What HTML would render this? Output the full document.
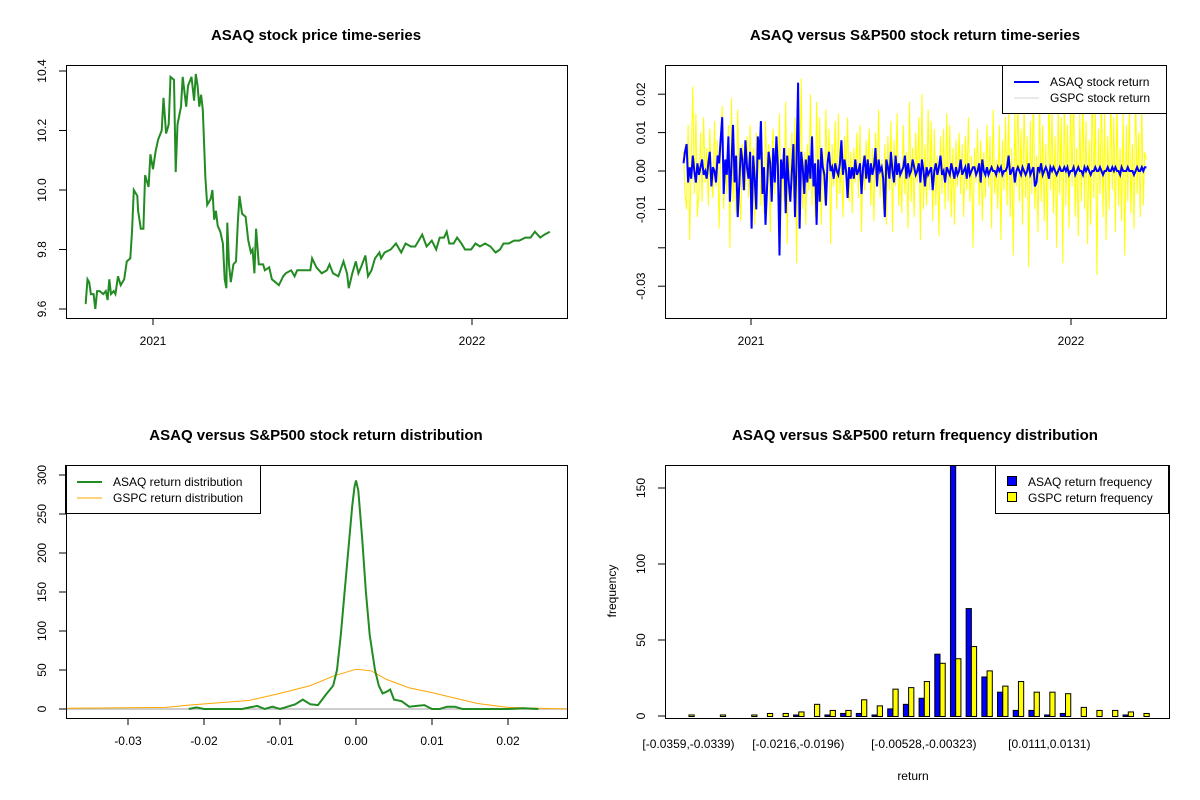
<!DOCTYPE html>
<html><head><meta charset="utf-8"><style>
body{margin:0;background:#fff}
svg{display:block;font-family:"Liberation Sans",Arial,sans-serif}
</style></head><body>
<svg id="s" width="1200" height="800" viewBox="0 0 1200 800">
<rect width="1200" height="800" fill="#fff"/>
<g font-weight="bold" font-size="15" text-anchor="middle" fill="#000">
<text x="316" y="40">ASAQ stock price time-series</text>
<text x="915" y="40">ASAQ versus S&amp;P500 stock return time-series</text>
<text x="316" y="440">ASAQ versus S&amp;P500 stock return distribution</text>
<text x="915" y="440">ASAQ versus S&amp;P500 return frequency distribution</text>
</g>
<text x="913" y="780" font-size="12" text-anchor="middle">return</text>
<text transform="translate(616,591) rotate(-90)" font-size="12" text-anchor="middle">frequency</text>
</svg>
<script>
// ---- price series (day offset from 2021-01-01, price) ----
const priceDays=[-78,-77,-75,-73,-71,-68,-66,-64,-61,-57,-54,-52,-50,-48,-45,-43,-40,-37,-33,-30,-26,-24,-22,-18,-17,-14,-11,-9,-5,-3,0,3,6,10,12,15,18,20,24,26,28,32,34,38,40,44,47,49,51,53,55,57,60,62,66,68,70,72,74,77,80,82,84,85,87,89,92,95,97,99,102,106,109,112,114,116,118,121,126,128,133,136,140,144,149,152,158,162,165,172,180,182,187,193,199,202,206,212,218,222,224,228,232,235,238,243,246,250,254,259,261,265,272,278,284,289,295,300,304,308,313,319,324,328,333,336,339,344,348,353,357,364,369,374,380,386,392,397,401,407,413,419,426,432,437,443,448,454];
const priceVals=[9.62,9.62,9.70,9.69,9.65,9.65,9.60,9.66,9.66,9.65,9.66,9.63,9.70,9.65,9.66,9.65,9.71,9.68,9.70,9.76,9.77,9.86,10.00,9.98,9.93,9.87,9.87,10.05,10.01,10.12,10.07,10.13,10.17,10.20,10.31,10.19,10.22,10.38,10.37,10.06,10.22,10.28,10.38,10.28,10.35,10.38,10.30,10.39,10.35,10.28,10.32,10.27,10.04,9.95,9.97,10.00,9.90,9.93,9.88,9.86,9.82,9.70,9.67,9.89,9.75,9.69,9.75,9.76,9.89,9.98,9.92,9.91,9.83,9.79,9.80,9.72,9.87,9.75,9.75,9.73,9.74,9.70,9.69,9.68,9.71,9.72,9.73,9.71,9.73,9.73,9.73,9.77,9.74,9.72,9.73,9.75,9.72,9.71,9.76,9.72,9.67,9.72,9.76,9.72,9.74,9.78,9.71,9.73,9.77,9.79,9.77,9.79,9.80,9.82,9.79,9.82,9.81,9.81,9.83,9.85,9.81,9.83,9.80,9.84,9.84,9.86,9.82,9.82,9.84,9.82,9.80,9.80,9.82,9.81,9.82,9.81,9.79,9.80,9.82,9.82,9.83,9.83,9.84,9.84,9.86,9.84,9.85,9.86];
const priceTicks=[9.6,9.8,10.0,10.2,10.4];
const yearTicks=[{d:0,l:"2021"},{d:365,l:"2022"}];
// ---- return series (x 0.001) ----
const retStartDay=-77, retEndDay=451;
const asaqRet=[2,5,7,-3,1,-2,4,0,-3,2,-1,1,3,-1,0,-2,2,5,-4,1,
0,-3,4,2,8,14,-6,3,-1,9,-8,2,12,-3,4,-12,-4,6,3,-5,
8,1,-2,5,-15,4,-2,-10,9,3,13,-6,1,-14,-4,5,2,-8,6,-3,
9,1,-22,3,-2,6,-11,4,-3,-8,0,7,-12,2,23,-15,5,1,-6,3,
-3,4,-2,9,-4,2,-14,3,-8,6,1,-1,-9,2,5,0,1,-2,2,0,
-1,2,8,-1,3,0,-7,1,-2,1,-2,3,-1,0,2,-6,1,4,-2,3,
-3,2,-1,1,6,-4,3,0,1,-2,-12,3,1,-2,5,0,-3,4,-1,2,
-1,0,1,4,-2,2,-1,0,3,1,-1,0,2,-3,3,0,-4,1,-1,0,
1,-5,0,2,-1,1,4,-1,0,-3,1,0,-1,2,0,-2,1,-1,0,3,
-1,0,1,-2,2,-1,0,1,1,-1,0,2,-3,3,0,-1,1,-1,0,1,
0,0,-1,1,0,1,-1,0,0,1,4,-1,0,1,-3,0,1,0,-1,1,
0,-1,0,2,-1,0,1,-4,-3,1,0,2,-1,0,1,0,-2,1,0,1,
0,-1,0,1,0,0,1,0,1,-1,0,0,1,-1,0,1,0,0,-1,1,
0,1,0,-1,0,0,1,0,0,1,0,-1,0,0,1,0,0,1,0,1,
0,0,-1,1,0,0,0,1,0,0,0,-1,0,1,0,0,1,0,1,1];
const gspcRet=[5,-6,-10,12,-18,3,22,-6,15,-12,-5,10,-8,14,-3,6,-9,11,-2,-7,
13,-4,8,-15,5,17,-10,3,-6,12,-20,19,-8,4,-11,16,-3,-13,7,2,
-5,9,-7,12,-4,6,-14,10,-2,8,-9,5,-11,13,-3,7,-16,4,11,-6,
9,-5,15,-12,3,-8,18,-19,6,-2,10,-7,14,-24,8,-3,24,-10,5,-14,
7,-5,20,-9,2,-12,18,-6,14,-14,5,-8,16,-3,11,-19,7,-4,13,-10,
15,-6,3,-12,9,-2,14,-8,5,-11,6,-3,10,-7,12,-16,4,-5,8,-2,
11,-9,6,-13,10,-4,16,-7,3,-10,7,-14,9,-5,13,-16,8,-4,15,-9,
2,-11,12,-6,5,-15,18,-8,6,-12,10,-3,14,-18,20,-10,7,-9,16,-5,
13,-13,11,-9,4,-17,9,-6,11,-10,15,-8,12,-12,6,-14,8,-4,10,-6,
7,-12,9,-5,14,-8,4,-20,6,-3,11,-9,8,-13,5,-7,12,-4,9,-15,
16,-6,3,-10,12,-18,8,-5,14,-9,17,-12,6,-22,15,-4,20,-8,11,-14,
18,-7,9,-25,13,-6,21,-10,4,-16,19,-8,12,-13,7,-18,22,-5,16,-11,
9,-20,17,-6,14,-24,21,-9,12,-15,18,-4,22,-12,6,-17,15,-8,20,-10,
13,-19,8,-14,24,-7,17,-27,11,-6,22,-12,15,-18,9,-10,20,-5,14,-16,
19,-9,6,-13,16,-22,12,-8,18,-11,7,-15,21,-6,10,-12,17,-9,5,3];
const retTicks=[{v:0.02,l:"0.02"},{v:0.01,l:"0.01"},{v:0,l:"0.00"},{v:-0.01,l:"-0.01"},{v:-0.02,l:""},{v:-0.03,l:"-0.03"}];
// ---- density (x in 0.001 units) ----
const greenX=[-22,-21,-20,-15,-14,-13,-12,-11,-10,-9,-8,-7,-6,-5,-4,-3,-2.5,-2,-1.5,-1,-0.5,-0.2,0,0.3,0.8,1.3,1.8,2.5,3,3.5,4,4.5,5,6,7,8,9,10,11,12,13,14,20,22,24];
const greenY=[0,2,0,0,2,4,0,3,0,3,6,12,6,5,18,30,50,95,150,205,260,285,293,280,220,150,95,50,30,20,22,25,12,10,3,4,5,0,0,3,3,0,0,1,0];
const orangeX=[-38,-25,-22,-18,-14,-10,-6,-3,0,2,4,7,10,13,16,20,24,28];
const orangeY=[1,2,5,8,11,20,30,42,51,49,38,27,21,14,7,2,1,0];
const densXTicks=[-0.03,-0.02,-0.01,0,0.01,0.02];
const densXLabels=["-0.03","-0.02","-0.01","0.00","0.01","0.02"];
const densYTicks=[0,50,100,150,200,250,300];
// ---- histogram ----
const asaqFreq=[0,0,0,0,0,0,0,1,0,1,2,2,1,5,8,12,41,180,71,26,16,4,4,1,2,0,0,0,1,0];
const gspcFreq=[1,0,1,0,1,2,2,3,8,4,4,11,7,18,19,23,35,38,46,30,20,23,16,16,15,6,4,4,3,2];
const histLabelGroups=[1,8,16,24];
const histLabels=["[-0.0359,-0.0339)","[-0.0216,-0.0196)","[-0.00528,-0.00323)","[0.0111,0.0131)"];
const histYTicks=[0,50,100,150];

const S=document.getElementById('s');const NS="http://www.w3.org/2000/svg";
function el(t,a,p){const e=document.createElementNS(NS,t);for(const k in a)e.setAttribute(k,a[k]);(p||S).appendChild(e);return e;}
function txt(x,y,s,anchor,rot){const e=el('text',{x:x,y:y,'font-size':12,'text-anchor':anchor||'middle'});if(rot)e.setAttribute('transform','rotate(-90 '+x+' '+y+')');e.textContent=s;return e;}
function box(x0,y0,x1,y1){return el('rect',{x:x0+.5,y:y0+.5,width:x1-x0,height:y1-y0,fill:'none',stroke:'#000','stroke-width':1});}
function clip(id,x0,y0,x1,y1){const c=el('clipPath',{id:id});el('rect',{x:x0,y:y0,width:x1-x0,height:y1-y0},c);}

// Panel 1: price
{const x=d=>153+d*319/365,y=v=>309-(v-9.6)*297.5;
clip('c1',66,65,567,318);
const pts=priceDays.map((d,i)=>x(d).toFixed(1)+','+y(priceVals[i]).toFixed(1)).join(' ');
const pl=el('polyline',{points:pts,fill:'none',stroke:'#228B22','stroke-width':2,'clip-path':'url(#c1)'});


const b=box(66,65,567,318);
priceTicks.forEach(v=>{const yy=y(v);el('line',{x1:59,x2:66,y1:yy,y2:yy,stroke:'#000'});const t=txt(46,yy,v.toFixed(1),'middle',true);});
yearTicks.forEach(o=>{const xx=x(o.d);el('line',{x1:xx,x2:xx,y1:318,y2:325,stroke:'#000'});const t=txt(xx,345,o.l);});
}
// Panel 2: returns
{const x=d=>751+d*320/365,y=v=>171-v*3840;
clip('c2',666,66,1166,318);
const n=gspcRet.length,m=asaqRet.length;
const gp=gspcRet.map((v,i)=>x(retStartDay+i*(retEndDay-retStartDay)/(n-1)).toFixed(1)+','+y(v/1000).toFixed(1)).join(' ');
const g=el('polyline',{points:gp,fill:'none',stroke:'#ffff00','stroke-width':1,'clip-path':'url(#c2)'});


const ap=asaqRet.map((v,i)=>x(retStartDay+i*(retEndDay-retStartDay)/(m-1)).toFixed(1)+','+y(v/1000).toFixed(1)).join(' ');
const a=el('polyline',{points:ap,fill:'none',stroke:'#0000ff','stroke-width':2,'clip-path':'url(#c2)'});


retTicks.forEach(o=>{const yy=y(o.v);el('line',{x1:658,x2:665,y1:yy,y2:yy,stroke:'#000'});if(o.l){const t=txt(645,yy,o.l,'middle',true);}});
yearTicks.forEach(o=>{const xx=x(o.d);el('line',{x1:xx,x2:xx,y1:318,y2:325,stroke:'#000'});const t=txt(xx,345,o.l);});
el('rect',{x:1002.5,y:65.5,width:164,height:48,fill:'#fff',stroke:'#000'});
el('line',{x1:1014,x2:1039,y1:82,y2:82,stroke:'#0000ff','stroke-width':2});
el('line',{x1:1014,x2:1039,y1:98,y2:98,stroke:'#d3d3d3','stroke-width':1});
let t=txt(1050,86,'ASAQ stock return','start');
t=txt(1050,102,'GSPC stock return','start');
const b=box(665,65,1166,318);
}
// Panel 3: density
{const x=v=>356+v*7600,y=v=>709-v*0.78;
clip('c3',66,466,567,718);
el('line',{x1:66,x2:567,y1:709,y2:709,stroke:'#bebebe','stroke-width':1.5});
const op=orangeX.map((v,i)=>x(v/1000).toFixed(1)+','+y(orangeY[i]).toFixed(1)).join(' ');
const o=el('polyline',{points:op,fill:'none',stroke:'#ffa500','stroke-width':1,'clip-path':'url(#c3)'});


const gp=greenX.map((v,i)=>x(v/1000).toFixed(1)+','+y(greenY[i]).toFixed(1)).join(' ');
const g=el('polyline',{points:gp,fill:'none',stroke:'#228B22','stroke-width':2,'clip-path':'url(#c3)'});


densYTicks.forEach(v=>{const yy=y(v);el('line',{x1:59,x2:66,y1:yy,y2:yy,stroke:'#000'});const t=txt(46,yy,String(v),'middle',true);});
densXTicks.forEach((v,i)=>{const xx=x(v);el('line',{x1:xx,x2:xx,y1:718,y2:725,stroke:'#000'});const t=txt(xx,745,densXLabels[i]);});
el('rect',{x:65.5,y:465.5,width:195,height:48,fill:'#fff',stroke:'#000'});
el('line',{x1:77,x2:102,y1:482,y2:482,stroke:'#228B22','stroke-width':2});
el('line',{x1:77,x2:102,y1:498,y2:498,stroke:'#ffa500','stroke-width':1});
let t=txt(113,486,'ASAQ return distribution','start');
t=txt(113,502,'GSPC return distribution','start');
const b=box(66,465,567,718);
}
// Panel 4: histogram
{const u=5.23,x0=678,y=v=>716-v*1.52;
clip('c4',666,466,1169,718);
asaqFreq.forEach((v,i)=>{const s=1+i*3;
 const r1=el('rect',{x:x0+s*u+.5,y:y(v)+.5,width:u,height:v*1.52,fill:'#0000ff',stroke:'#000','stroke-width':1,'clip-path':'url(#c4)'});
 
 
 const g=gspcFreq[i];
 const r2=el('rect',{x:x0+(s+1)*u+.5,y:y(g)+.5,width:u,height:g*1.52,fill:'#ffff00',stroke:'#000','stroke-width':1,'clip-path':'url(#c4)'});
 
 
});
histYTicks.forEach(v=>{const yy=y(v);el('line',{x1:658,x2:665,y1:yy,y2:yy,stroke:'#000'});const t=txt(645,yy,String(v),'middle',true);});
histLabelGroups.forEach((gi,i)=>{const xx=x0+(1+(gi-1)*3+1)*u;const t=txt(xx,748,histLabels[i]);});
el('rect',{x:995.5,y:465.5,width:173,height:48,fill:'#fff',stroke:'#000'});
el('rect',{x:1007.5,y:476.5,width:9,height:9,fill:'#0000ff',stroke:'#000'});
el('rect',{x:1007.5,y:492.5,width:9,height:9,fill:'#ffff00',stroke:'#000'});
let t=txt(1028,486,'ASAQ return frequency','start');
t=txt(1028,502,'GSPC return frequency','start');
const b=box(665,465,1169,718);
}
</script>
</body></html>
